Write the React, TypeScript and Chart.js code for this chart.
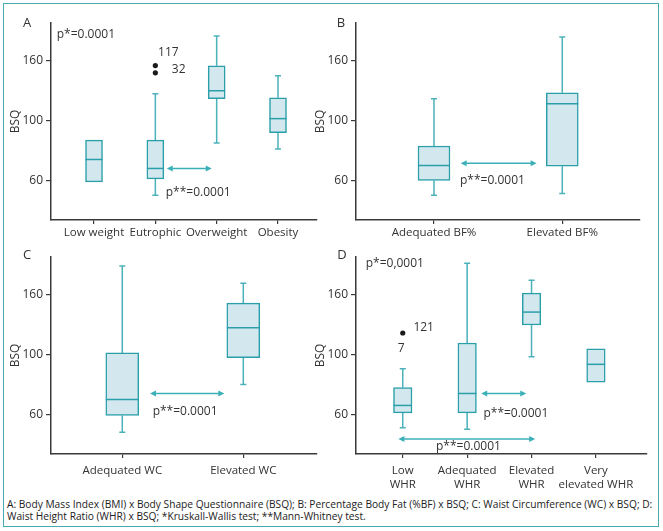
import React, { useEffect, useRef } from 'react';
import { Chart, registerables, LinearScale } from 'chart.js';

Chart.register(...registerables);

// ---------- Y axis (BSQ): the reference spaces 60, 100, 160 evenly ----------
const Y_TICKS = [60, 100, 160];
const Y_MIN = 33.5;
const Y_MAX = 198;

function toU(v: number): number {
  const t = Y_TICKS;
  if (v <= t[1]) return (v - t[0]) / (t[1] - t[0]);
  return 1 + (v - t[1]) / (t[2] - t[1]);
}
function fromU(u: number): number {
  const t = Y_TICKS;
  if (u <= 1) return t[0] + u * (t[1] - t[0]);
  return t[1] + (u - 1) * (t[2] - t[1]);
}

class BsqScale extends LinearScale {
  static id = 'bsq';
  static defaults = {};
  determineDataLimits() {
    (this as any).min = toU(Y_MIN);
    (this as any).max = toU(Y_MAX);
  }
  buildTicks() {
    return Y_TICKS.map((v) => ({ value: v }));
  }
  getPixelForValue(v: number) {
    return super.getPixelForValue(toU(v));
  }
  getValueForPixel(p: number) {
    return fromU(super.getValueForPixel(p) as number);
  }
}
Chart.register(BsqScale as any);

// ---------- Data ----------
// Panel A: BMI
const A_CATS = ['Low weight', 'Eutrophic', 'Overweight', 'Obesity'];
const A_MIN = [null, 50, 85, 81];
const A_Q1 = [59, 61, 122, 92];
const A_MED = [74, 68, 130, 102];
const A_Q3 = [87, 87, 155, 123];
const A_MAX = [null, 127, 185, 145];
const A_OUT_X = [2, 2];
const A_OUT_Y = [155.3, 148];

// Panel B: %BF
const B_CATS = ['Adequated BF%', 'Elevated BF%'];
const B_MIN = [50, 51.3];
const B_Q1 = [60, 69.5];
const B_MED = [70, 117];
const B_Q3 = [83, 128];
const B_MAX = [122, 184];

// Panel C: WC
const C_CATS = ['Adequated WC', 'Elevated WC'];
const C_MIN = [48, 80];
const C_Q1 = [59.3, 98];
const C_MED = [70, 127];
const C_Q3 = [101.7, 151.7];
const C_MAX = [189, 171.7];

// Panel D: WHR
const D_CATS = [['Low', 'WHR'], ['Adequated', 'WHR'], ['Elevated', 'WHR'], ['Very', 'elevated WHR']];
const D_MIN = [51, 50, 98.5, null];
const D_Q1 = [61, 61, 129.7, 81.5];
const D_MED = [66, 74, 142.7, 93.5];
const D_Q3 = [78, 111.7, 161.7, 105.7];
const D_MAX = [90.5, 191.7, 174.7, null];
const D_OUT_X = [1];
const D_OUT_Y = [121.7];

const CAPTION_1 = 'A: Body Mass Index (BMI) x Body Shape Questionnaire (BSQ); B: Percentage Body Fat (%BF) x BSQ; C: Waist Circumference (WC) x BSQ; D:';
const CAPTION_2 = 'Waist Height Ratio (WHR) x BSQ; *Kruskall-Wallis test; **Mann-Whitney test.';

// ---------- Styles ----------
const FONT = "'Open Sans', sans-serif";
const TEAL = '#2b9fa9';
const WHISK = '#4cb2ba';
const FILL = '#d2e8ee';
const ARROW = '#3cb0b8';
const AX = '#3a3a3a';
const TXT = '#333333';
const FRAME = '#48a9ae';

type TextAnn = { x: number; y: number; text: string; align: CanvasTextAlign };
type Arrow = { x1: number; x2: number; y: number };
type Panel = {
  id: string;
  letter: string;
  letterDx: number;
  letterDy: number;
  cats: (string | string[])[];
  min: (number | null)[];
  q1: number[];
  med: number[];
  q3: number[];
  max: (number | null)[];
  outX: number[];
  outY: number[];
  arrows: Arrow[];
  texts: TextAnn[];
  xMin: number;
  xMax: number;
  barW: number;
  box: { left: number; top: number; width: number; height: number };
  padTop: number;
  padRight: number;
  xH: number;
  xLabelPad: number;
};

const PANELS: Panel[] = [
  {
    id: 'A', letter: 'A', letterDx: -24, letterDy: 0,
    cats: A_CATS, min: A_MIN, q1: A_Q1, med: A_MED, q3: A_Q3, max: A_MAX,
    outX: A_OUT_X, outY: A_OUT_Y,
    arrows: [{ x1: 2.186, x2: 2.92, y: 68 }],
    texts: [
      { x: 0.392, y: 186, text: 'p*=0.0001', align: 'left' },
      { x: 2.044, y: 168.3, text: '117', align: 'left' },
      { x: 2.268, y: 151, text: '32', align: 'left' },
      { x: 2.17, y: 52, text: 'p**=0.0001', align: 'left' },
    ],
    xMin: 0.2985, xMax: 4.636, barW: 17,
    box: { left: 0, top: 0, width: 330, height: 245 },
    padTop: 23, padRight: 13, xH: 25, xLabelPad: 2.5,
  },
  {
    id: 'B', letter: 'B', letterDx: -15, letterDy: 0,
    cats: B_CATS, min: B_MIN, q1: B_Q1, med: B_MED, q3: B_Q3, max: B_MAX,
    outX: [], outY: [],
    arrows: [{ x1: 1.208, x2: 1.8, y: 71.5 }],
    texts: [{ x: 1.203, y: 60, text: 'p**=0.0001', align: 'left' }],
    xMin: 0.392, xMax: 2.606, barW: 32,
    box: { left: 305, top: 0, width: 358, height: 245 },
    padTop: 23, padRight: 23, xH: 25, xLabelPad: 2.5,
  },
  {
    id: 'C', letter: 'C', letterDx: -24, letterDy: -2,
    cats: C_CATS, min: C_MIN, q1: C_Q1, med: C_MED, q3: C_Q3, max: C_MAX,
    outX: [], outY: [],
    arrows: [{ x1: 1.229, x2: 1.843, y: 74 }],
    texts: [{ x: 1.251, y: 62.2, text: 'p**=0.0001', align: 'left' }],
    xMin: 0.411, xMax: 2.609, barW: 33,
    box: { left: 0, top: 235, width: 330, height: 257 },
    padTop: 22, padRight: 13, xH: 38, xLabelPad: 6.5,
  },
  {
    id: 'D', letter: 'D', letterDx: -14, letterDy: -2,
    cats: D_CATS, min: D_MIN, q1: D_Q1, med: D_MED, q3: D_Q3, max: D_MAX,
    outX: D_OUT_X, outY: D_OUT_Y,
    arrows: [
      { x1: 2.218, x2: 2.918, y: 74 },
      { x1: 0.932, x2: 3.057, y: 43.5 },
    ],
    texts: [
      { x: 0.425, y: 191.7, text: 'p*=0,0001', align: 'left' },
      { x: 1.165, y: 126.7, text: '121', align: 'left' },
      { x: 0.974, y: 106.3, text: '7', align: 'center' },
      { x: 2.253, y: 60.5, text: 'p**=0.0001', align: 'left' },
      { x: 2.02, y: 38.2, text: 'p**=0.0001', align: 'center' },
    ],
    xMin: 0.274, xMax: 4.793, barW: 18.5,
    box: { left: 305, top: 235, width: 358, height: 257 },
    padTop: 22, padRight: 16, xH: 38, xLabelPad: 6.5,
  },
];

function makePlugin(p: Panel) {
  return {
    id: 'boxExtras' + p.id,
    beforeDatasetsDraw(chart: any) {
      const { ctx, scales } = chart;
      const xs = scales.x;
      const ys = scales.y;
      ctx.save();
      ctx.strokeStyle = WHISK;
      ctx.lineWidth = 1.5;
      const cap = 3;
      p.cats.forEach((_, i) => {
        const cx = xs.getPixelForValue(i + 1);
        const hi = p.max[i];
        const lo = p.min[i];
        if (hi != null) {
          const y0 = ys.getPixelForValue(p.q3[i]);
          const y1 = ys.getPixelForValue(hi);
          ctx.beginPath();
          ctx.moveTo(cx, y0);
          ctx.lineTo(cx, y1);
          ctx.moveTo(cx - cap, y1);
          ctx.lineTo(cx + cap, y1);
          ctx.stroke();
        }
        if (lo != null) {
          const y0 = ys.getPixelForValue(p.q1[i]);
          const y1 = ys.getPixelForValue(lo);
          ctx.beginPath();
          ctx.moveTo(cx, y0);
          ctx.lineTo(cx, y1);
          ctx.moveTo(cx - cap, y1);
          ctx.lineTo(cx + cap, y1);
          ctx.stroke();
        }
      });
      ctx.restore();
    },
    afterDatasetsDraw(chart: any) {
      const { ctx, scales, chartArea } = chart;
      const xs = scales.x;
      const ys = scales.y;
      const meta = chart.getDatasetMeta(0);
      ctx.save();
      // medians
      ctx.strokeStyle = TEAL;
      ctx.lineWidth = 1.5;
      meta.data.forEach((bar: any, i: number) => {
        const w = bar.width;
        const yy = ys.getPixelForValue(p.med[i]);
        ctx.beginPath();
        ctx.moveTo(bar.x - w / 2, yy);
        ctx.lineTo(bar.x + w / 2, yy);
        ctx.stroke();
      });
      // arrows
      ctx.strokeStyle = ARROW;
      ctx.fillStyle = ARROW;
      ctx.lineWidth = 1.5;
      p.arrows.forEach((a) => {
        const x1 = xs.getPixelForValue(a.x1);
        const x2 = xs.getPixelForValue(a.x2);
        const yy = ys.getPixelForValue(a.y);
        ctx.beginPath();
        ctx.moveTo(x1 + 3, yy);
        ctx.lineTo(x2 - 3, yy);
        ctx.stroke();
        ctx.beginPath();
        ctx.moveTo(x1, yy);
        ctx.lineTo(x1 + 6, yy - 3);
        ctx.lineTo(x1 + 6, yy + 3);
        ctx.closePath();
        ctx.fill();
        ctx.beginPath();
        ctx.moveTo(x2, yy);
        ctx.lineTo(x2 - 6, yy - 3);
        ctx.lineTo(x2 - 6, yy + 3);
        ctx.closePath();
        ctx.fill();
      });
      // texts
      ctx.fillStyle = TXT;
      ctx.font = `12px ${FONT}`;
      ctx.textBaseline = 'middle';
      p.texts.forEach((t) => {
        ctx.textAlign = t.align;
        ctx.fillText(t.text, xs.getPixelForValue(t.x), ys.getPixelForValue(t.y));
      });
      // panel letter
      ctx.font = `13px ${FONT}`;
      ctx.textAlign = 'center';
      ctx.fillText(p.letter, chartArea.left + p.letterDx, chartArea.top + p.letterDy);
      ctx.restore();
    },
  };
}

function PanelChart({ p }: { p: Panel }) {
  const ref = useRef<HTMLCanvasElement | null>(null);
  useEffect(() => {
    if (!ref.current) return;
    const chart = new Chart(ref.current, {
      type: 'bar',
      data: {
        datasets: [
          {
            type: 'bar',
            data: p.cats.map((_, i) => ({ x: i + 1, y: [p.q1[i], p.q3[i]] })) as any,
            backgroundColor: FILL,
            borderColor: TEAL,
            borderWidth: 1.5,
            borderSkipped: false,
            barThickness: p.barW,
            grouped: false,
            order: 2,
          } as any,
          {
            type: 'scatter',
            data: p.outX.map((x, i) => ({ x, y: p.outY[i] })),
            pointRadius: 2.6,
            pointBackgroundColor: '#1b1b1b',
            pointBorderWidth: 0,
            order: 1,
          } as any,
        ],
      },
      options: {
        animation: false,
        responsive: false,
        maintainAspectRatio: false,
        devicePixelRatio: 1,
        layout: { padding: { top: p.padTop, right: p.padRight, left: 0, bottom: 0 } },
        plugins: {
          legend: { display: false },
          tooltip: { enabled: false },
          title: { display: false },
        },
        scales: {
          x: {
            type: 'linear',
            min: p.xMin,
            max: p.xMax,
            offset: false,
            afterBuildTicks: (s: any) => {
              s.ticks = p.cats.map((_, i) => ({ value: i + 1 }));
            },
            afterFit: (s: any) => {
              s.height = p.xH;
            },
            ticks: {
              autoSkip: false,
              maxRotation: 0,
              minRotation: 0,
              padding: p.xLabelPad,
              color: TXT,
              font: { family: FONT, size: 11.5, lineHeight: 1.15 },
              callback: (v: any) => p.cats[Math.round(Number(v)) - 1] ?? '',
            },
            grid: { drawOnChartArea: false, drawTicks: true, tickLength: 4, color: AX, lineWidth: 1.2, offset: false },
            border: { display: true, color: AX, width: 1.5 },
          },
          y: {
            type: 'bsq' as any,
            position: 'left',
            afterFit: (s: any) => {
              s.width = 51;
            },
            ticks: {
              padding: 3,
              color: TXT,
              font: { family: FONT, size: 12 },
              callback: (v: any) => String(v),
            },
            grid: { drawOnChartArea: false, drawTicks: true, tickLength: 5, color: AX, lineWidth: 1.2 },
            border: { display: true, color: AX, width: 1.5 },
            title: {
              display: true,
              text: 'BSQ',
              color: TXT,
              font: { family: FONT, size: 12 },
              padding: { top: 8.8, bottom: 0 },
            },
          } as any,
        },
      } as any,
      plugins: [makePlugin(p)],
    });
    return () => chart.destroy();
  }, [p]);
  return (
    <canvas
      ref={ref}
      width={p.box.width}
      height={p.box.height}
      style={{
        position: 'absolute',
        left: p.box.left,
        top: p.box.top,
        width: p.box.width,
        height: p.box.height,
      }}
    />
  );
}

export default function App() {
  return (
    <div
      style={{
        position: 'fixed',
        left: 0,
        top: 0,
        width: 663,
        height: 531,
        background: '#ffffff',
        overflow: 'hidden',
      }}
    >
      <div
        style={{
          position: 'absolute',
          left: 3,
          top: 3,
          width: 656,
          height: 524,
          border: `1.5px solid ${FRAME}`,
          boxSizing: 'border-box',
        }}
      />
      {PANELS.map((p) => (
        <PanelChart key={p.id} p={p} />
      ))}
      <div
        style={{
          position: 'absolute',
          left: 7,
          top: 497.5,
          fontFamily: FONT,
          fontSize: 10.2,
          lineHeight: '12px',
          color: '#222222',
          whiteSpace: 'nowrap',
        }}
      >
        {CAPTION_1}
        <br />
        {CAPTION_2}
      </div>
    </div>
  );
}
